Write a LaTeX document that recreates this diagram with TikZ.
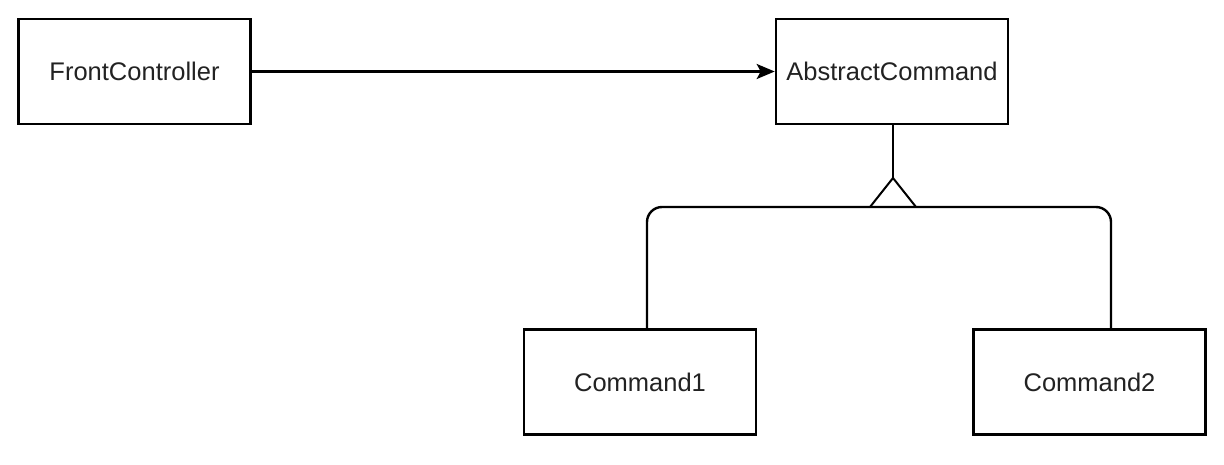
\documentclass[tikz,border=0pt]{standalone}
\usepackage{fontspec}
\setmainfont{Liberation Sans}
\usetikzlibrary{arrows.meta}
\definecolor{txt}{HTML}{222222}
\begin{document}
\begin{tikzpicture}[x=1pt,y=-1pt,
  cls/.style={draw=black, line width=2.6pt, minimum width=232pt, minimum height=105pt, inner sep=0pt, font=\fontsize{25.5}{30}\selectfont, text=txt},
  conn/.style={draw=black, line width=2.4pt},
  tri/.style={draw=black, line width=2pt, line join=miter}]
\useasboundingbox (0,0) rectangle (1224,465);
\node[cls] (fc) at (134.5,71.5) {FrontController};
\node[cls] (ac) at (892,71.5) {AbstractCommand};
\node[cls] (c1) at (640,382) {Command1};
\node[cls] (c2) at (1089.5,382) {Command2};
\coordinate (hub) at (893,207);
\coordinate (apex) at (893,178);
\draw[conn, -{Stealth[length=18pt, width=15pt, inset=4pt]}] (fc.east) -- (ac.west);
\draw[conn] (ac.south -| apex) -- (apex);
\draw[tri] ([xshift=-23pt]hub) -- (apex) -- ([xshift=23pt]hub);
\draw[conn, rounded corners=15pt] (c1.north -| 647,0) -- (647,207) -- (1111,207) -- (c2.north -| 1111,0);
\end{tikzpicture}
\end{document}
